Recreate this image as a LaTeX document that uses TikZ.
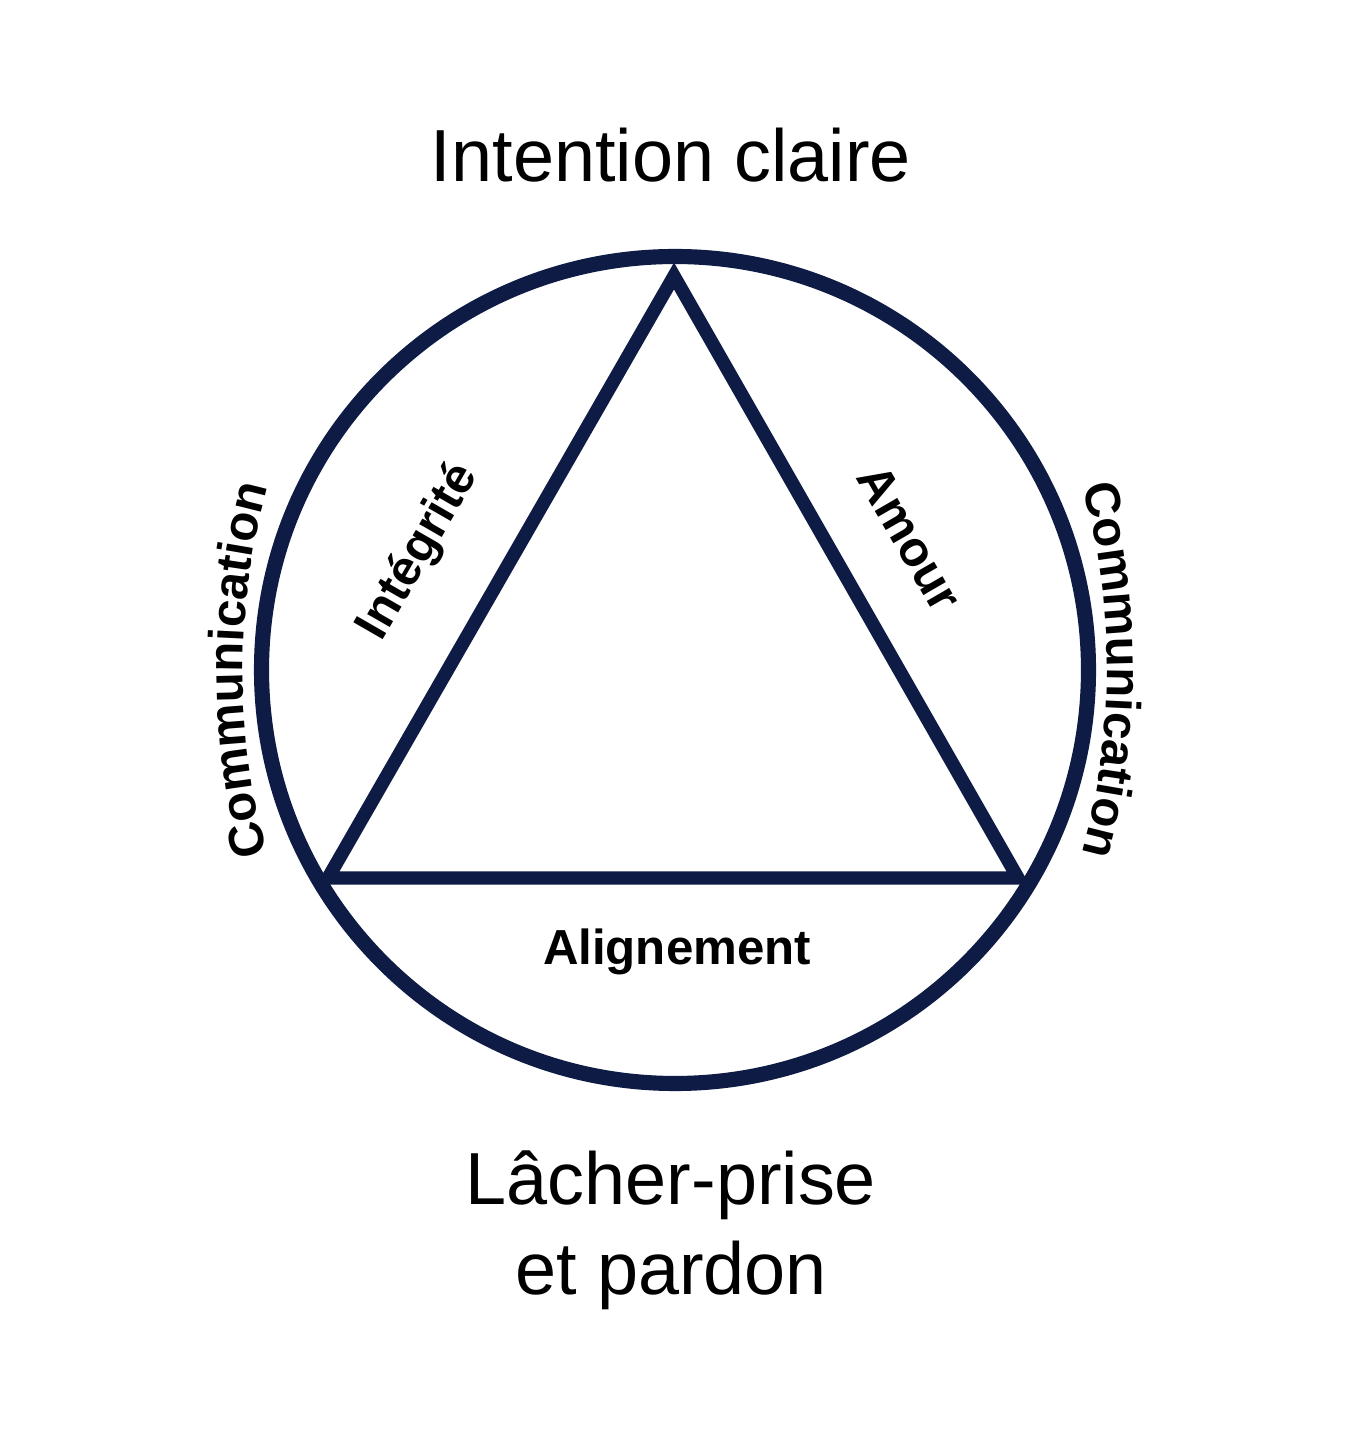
\documentclass[tikz,border=0pt]{standalone}
\usepackage{fontspec}
\setmainfont{Liberation Sans}
\usepackage{xcolor}
\usetikzlibrary{calc, decorations.text}
\definecolor{ringnavy}{HTML}{0D1B45}
\newcommand{\sidefont}{\fontsize{14}{16}\selectfont\bfseries}

\begin{document}
\begin{tikzpicture}[
    ring/.style={draw=ringnavy, line width=4.3pt},
    tri/.style={draw=ringnavy, line width=3.8pt, line join=miter},
    bigtext/.style={font=\fontsize{21}{25.6}\selectfont, align=center, inner sep=0pt},
    sidetext/.style={font=\sidefont, inner sep=0pt},
]
    \fill[white] (0, 0) rectangle (13.51, 14.40);
    \useasboundingbox (0, 0) rectangle (13.51, 14.40);

    % Circle and triangle
    \coordinate (hub) at (6.75, 7.70);
    \coordinate (apex) at (6.74, 11.64);
    \coordinate (lcorner) at (3.28, 5.62);
    \coordinate (rcorner) at (10.18, 5.62);
    \draw[ring] (hub) circle (4.135);
    \draw[tri] (apex) -- (lcorner) -- (rcorner) -- cycle;

    % Titles
    \node[bigtext, anchor=base] (intention) at (6.71, 12.58) {Intention claire};
    \node[bigtext] (lacher) at (6.71, 2.10) {Lâcher-prise\\ et pardon};

    % Side labels
    \node[sidetext, rotate=60] (integrite) at (4.19, 8.88) {Intégrité};
    \node[sidetext, rotate=-60] (amour) at (9.10, 9.02) {Amour};
    \node[sidetext, anchor=base] (alignement) at (6.77, 4.75) {Alignement};

    % Communication, along the ring
    \coordinate (lhub) at (9.43, 7.70);
    \coordinate (rhub) at (4.07, 7.70);
    \path[decorate, decoration={text along path, text align=center,
        text={|\sidefont|Communication}}]
        ($(lhub)+(200:7)$) arc[start angle=200, end angle=160, radius=7];
    \path[decorate, decoration={text along path, text align=center,
        text={|\sidefont|Communication}}]
        ($(rhub)+(20:7)$) arc[start angle=20, end angle=-20, radius=7];
\end{tikzpicture}
\end{document}
